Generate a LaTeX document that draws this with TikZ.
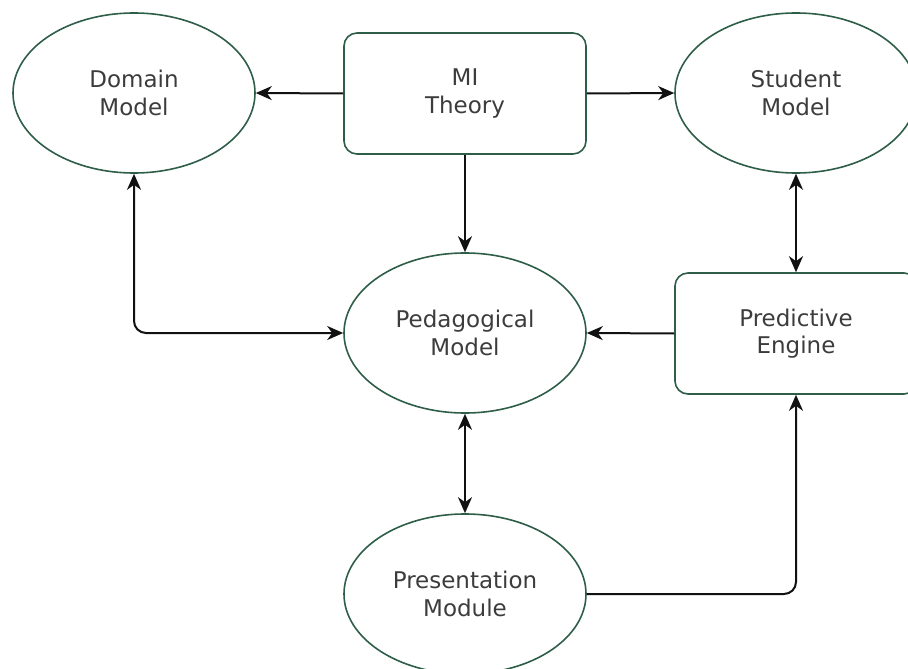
\documentclass[tikz,border=0pt]{standalone}
\usepackage{fontspec}
\setmainfont{DejaVu Sans}
\usetikzlibrary{shapes.geometric,arrows.meta}
\definecolor{edgegreen}{HTML}{2E5E48}
\definecolor{labelgray}{HTML}{3C3C3C}
\definecolor{wire}{HTML}{111111}
\tikzset{
  label text/.style={text=labelgray, align=center, font=\fontsize{23}{27.5}\selectfont},
  model/.style={ellipse, draw=edgegreen, line width=1.6pt, inner sep=0pt,
    minimum width=242pt, minimum height=160pt, label text},
  box/.style={rectangle, rounded corners=13pt, draw=edgegreen, line width=1.6pt,
    inner sep=0pt, minimum width=242pt, minimum height=121pt, label text},
  tip/.tip={Stealth[length=16pt,width=14pt,inset=5pt]},
  link/.style={draw=wire, line width=2pt, -tip},
  dlink/.style={draw=wire, line width=2pt, tip-tip},
}
\begin{document}
\begin{tikzpicture}[x=1pt, y=-1pt]
  \useasboundingbox (0,0) rectangle (908,669);
  \clip (0,0) rectangle (908,669);

  % components
  \node[model] (domain)  at (134,93)    {Domain\\Model};
  \node[box]   (mi)      at (465,93.5)  {MI\\Theory};
  \node[model] (student) at (796,93)    {Student\\Model};
  \node[model] (ped)     at (465,333)   {Pedagogical\\Model};
  \node[box]   (pred)    at (796,333.5) {Predictive\\Engine};
  \node[model] (pres)    at (465,594)   {Presentation\\Module};

  % information flow
  \draw[link] (mi.west) -- (domain.east);
  \draw[link] (mi.east) -- (student.west);
  \draw[link] (mi.south) -- (ped.north);
  \draw[dlink] (student.south) -- (pred.north);
  \draw[link] (pred.west) -- (ped.east);
  \draw[dlink] (ped.south) -- (pres.north);
  \draw[dlink, rounded corners=12pt] (domain.south) |- (ped.west);
  \draw[link, rounded corners=12pt] (pres.east) -| (pred.south);
\end{tikzpicture}
\end{document}
